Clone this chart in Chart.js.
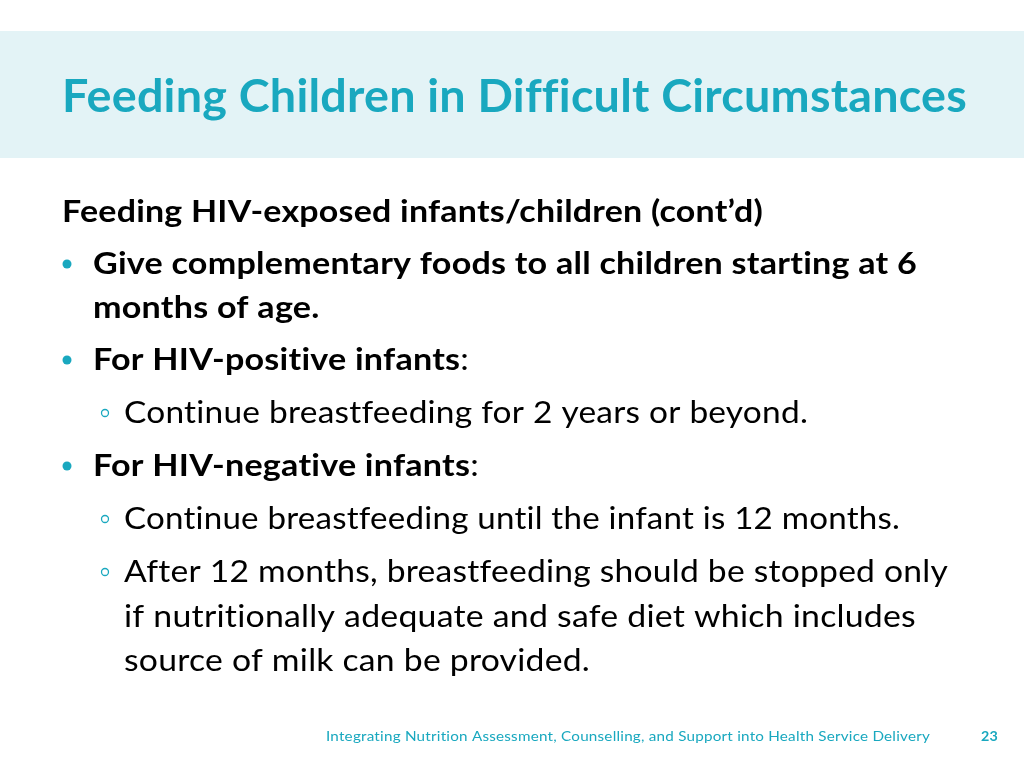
<!DOCTYPE html>
<html>
<head>
<meta charset="utf-8">
<script src="https://cdn.jsdelivr.net/npm/chart.js@4"></script>
<style>
  html, body { margin: 0; padding: 0; background: #ffffff; }
  #slide { display: block; }
</style>
</head>
<body>
<canvas id="slide" width="1024" height="768"></canvas>
<script>
// slide text, top to bottom
const title = 'Feeding Children in Difficult Circumstances';
const subhead = 'Feeding HIV-exposed infants/children (cont\u2019d)';
const bulletLines = [
    ['Give complementary foods to all children starting at 6', 'months of age.'],
    ['For HIV-positive infants'],
    ['For HIV-negative infants']
];
const subLines = [
    ['Continue breastfeeding for 2 years or beyond.'],
    ['Continue breastfeeding until the infant is 12 months.'],
    ['After 12 months, breastfeeding should be stopped only', 'if nutritionally adequate and safe diet which includes', 'source of milk can be provided.']
];
const footer = 'Integrating Nutrition Assessment, Counselling, and Support into Health Service Delivery';
const pageNo = '23';

const teal = '#19a8bf';
const FONT = 'Lato, "Open Sans", sans-serif';

function setText(ctx, font, color) {
    ctx.font = font;
    ctx.fillStyle = color;
    ctx.textBaseline = 'middle';
    // a tiny letter spacing keeps the browser from forming ti / ft ligatures
    ctx.letterSpacing = '0.2px';
}

function drawFit(ctx, text, x, y, width, font, color) {
    ctx.save();
    setText(ctx, font, color);
    const w = ctx.measureText(text).width;
    ctx.translate(x, y);
    ctx.scale(width / w, 1);
    ctx.fillText(text, 0, 0);
    ctx.restore();
}

function drawPlain(ctx, text, x, y, font, color, sx) {
    ctx.save();
    setText(ctx, font, color);
    ctx.translate(x, y);
    ctx.scale(sx, 1);
    ctx.fillText(text, 0, 0);
    const w = ctx.measureText(text).width * sx;
    ctx.restore();
    return w;
}

function dot(ctx, x, y) {
    ctx.beginPath();
    ctx.arc(x, y, 4.5, 0, Math.PI * 2);
    ctx.fillStyle = teal;
    ctx.fill();
}

function ring(ctx, x, y) {
    ctx.beginPath();
    ctx.arc(x, y, 3.5, 0, Math.PI * 2);
    ctx.strokeStyle = teal;
    ctx.lineWidth = 1.3;
    ctx.stroke();
}

const slidePlugin = {
    id: 'slide',
    beforeDraw(chart) {
        const ctx = chart.ctx;
        ctx.save();
        ctx.fillStyle = '#ffffff';
        ctx.fillRect(0, 0, chart.width, chart.height);
        ctx.fillStyle = '#e3f3f6';
        ctx.fillRect(0, 31, chart.width, 127);
        ctx.restore();
    },
    afterDraw(chart) {
        const ctx = chart.ctx;
        const bold = 'bold 30px ' + FONT;
        const reg = '30px ' + FONT;

        drawFit(ctx, title, 62, 97, 905, 'bold 46px ' + FONT, teal);
        drawFit(ctx, subhead, 62, 212, 701, bold, '#000000');

        // bullet 1
        dot(ctx, 67, 264);
        drawFit(ctx, bulletLines[0][0], 93, 264, 824, bold, '#000000');
        ctx.save();
        setText(ctx, bold, '#000000');
        const sxB = 824 / ctx.measureText(bulletLines[0][0]).width;
        ctx.restore();
        drawPlain(ctx, bulletLines[0][1], 93, 308, bold, '#000000', sxB);

        // bullet 2
        dot(ctx, 67, 360);
        let w = drawPlain(ctx, bulletLines[1][0], 93, 360, bold, '#000000', sxB);
        drawPlain(ctx, ':', 93 + w, 360, reg, '#000000', sxB);
        ring(ctx, 105, 413);
        drawFit(ctx, subLines[0][0], 124, 413, 684, reg, '#000000');

        // bullet 3
        dot(ctx, 67, 466);
        w = drawPlain(ctx, bulletLines[2][0], 93, 466, bold, '#000000', sxB);
        drawPlain(ctx, ':', 93 + w, 466, reg, '#000000', sxB);
        ring(ctx, 105, 519);
        drawFit(ctx, subLines[1][0], 124, 519, 776, reg, '#000000');
        ring(ctx, 105, 572);
        drawFit(ctx, subLines[2][0], 124, 572, 824, reg, '#000000');
        drawFit(ctx, subLines[2][1], 124, 617, 792, reg, '#000000');
        drawFit(ctx, subLines[2][2], 124, 661, 466, reg, '#000000');

        drawFit(ctx, footer, 326, 736, 604, '14px ' + FONT, teal);
        drawFit(ctx, pageNo, 981, 736, 17, 'bold 14px ' + FONT, teal);
    }
};

new Chart(document.getElementById('slide'), {
    type: 'bar',
    data: { labels: [], datasets: [] },
    options: {
        responsive: false,
        animation: false,
        events: [],
        plugins: { legend: { display: false }, tooltip: { enabled: false } },
        scales: { x: { display: false }, y: { display: false } }
    },
    plugins: [slidePlugin]
});
</script>
</body>
</html>
